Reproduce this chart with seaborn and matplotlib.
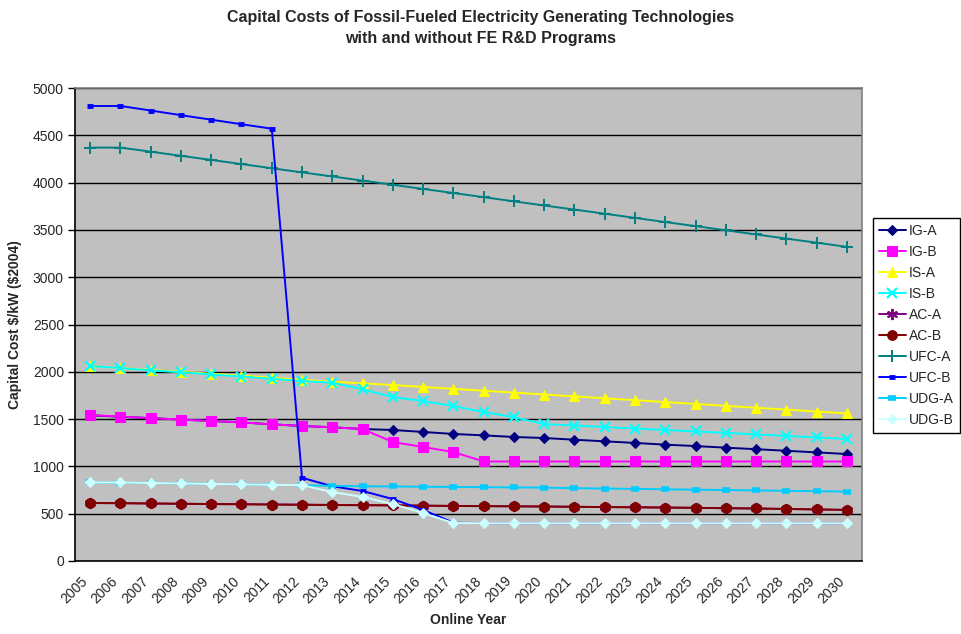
import matplotlib
matplotlib.use("Agg")
import matplotlib.pyplot as plt
import matplotlib.transforms as mtransforms
import seaborn as sns
import pandas as pd

years = list(range(2005, 2031))

ig_a = [1540, 1525, 1510, 1495, 1480, 1465, 1445, 1427, 1414, 1395, 1385, 1364, 1343, 1328, 1311,
        1300, 1282, 1265, 1248, 1230, 1215, 1198, 1182, 1165, 1148, 1131]
ig_b = [1543, 1527, 1510, 1495, 1480, 1465, 1445, 1427, 1414, 1395, 1258, 1205, 1152, 1052, 1052,
        1052, 1052, 1052, 1052, 1052, 1052, 1052, 1052, 1052, 1052, 1052]
is_a = [2060, 2040, 2020, 2000, 1980, 1960, 1937, 1915, 1895, 1878, 1860, 1840, 1820, 1800, 1780,
        1760, 1740, 1720, 1700, 1680, 1660, 1640, 1620, 1600, 1580, 1560]
is_b = [2060, 2040, 2015, 1995, 1972, 1950, 1925, 1903, 1885, 1815, 1733, 1691, 1638, 1575, 1520,
        1447, 1432, 1416, 1400, 1385, 1370, 1354, 1338, 1322, 1306, 1290]
ac_a = [613, 611, 608, 605, 602, 600, 597, 595, 592, 590, 588, 585, 582, 580, 578,
        576, 573, 570, 568, 565, 562, 558, 555, 550, 545, 540]
ac_b = ac_a[:]
ufc_a = [4370, 4370, 4327, 4283, 4240, 4196, 4152, 4108, 4065, 4021, 3977, 3933, 3890, 3846, 3802,
         3758, 3715, 3671, 3627, 3583, 3540, 3496, 3452, 3408, 3365, 3321]
ufc_b = [4810, 4810, 4762, 4713, 4665, 4617, 4570, 880, 790, 740, 655, 540, 405, 400, 400,
         400, 400, 400, 400, 400, 400, 400, 400, 400, 400, 400]
udg_a = [830, 828, 825, 820, 815, 810, 805, 800, 795, 790, 788, 785, 783, 780, 778,
         775, 770, 766, 762, 758, 754, 750, 746, 742, 738, 733]
udg_b = [830, 830, 825, 820, 815, 810, 805, 802, 729, 677, 602, 507, 402, 400, 400,
         400, 400, 400, 400, 400, 400, 400, 400, 400, 400, 400]

series = [
    ("IG-A", ig_a, "#000080", "D", 5.5, {}),
    ("IG-B", ig_b, "#FF00FF", "s", 7, {}),
    ("IS-A", is_a, "#FFFF00", "^", 7.5, {}),
    ("IS-B", is_b, "#00FFFF", "x", 7, {"markeredgewidth": 1.6}),
    ("AC-A", ac_a, "#800080", (6, 2, 0), 8, {"markeredgewidth": 1.4}),
    ("AC-B", ac_b, "#800000", "o", 7, {}),
    ("UFC-A", ufc_a, "#008080", "+", 8, {"markeredgewidth": 1.4}),
    ("UFC-B", ufc_b, "#0000FF", "_", 5, {"markeredgewidth": 3.5}),
    ("UDG-A", udg_a, "#00CCFF", "_", 6, {"markeredgewidth": 4}),
    ("UDG-B", udg_b, "#CCFFFF", "D", 5.5, {}),
]

sns.set_style("white")
plt.rcParams["font.family"] = ["Liberation Sans", "DejaVu Sans"]

fig = plt.figure(figsize=(9.61, 6.34), dpi=100)
ax = fig.add_axes([75 / 961, 73 / 634, (862 - 75) / 961, (561 - 88) / 634])
ax.set_facecolor("#C0C0C0")

for name, vals, col, mk, ms, kw in series:
    df = pd.DataFrame({"year": years, "cost": vals})
    sns.lineplot(data=df, x="year", y="cost", ax=ax, color=col, marker=mk, markersize=ms,
                 markeredgecolor=col, markerfacecolor=col, linewidth=1.4, label=name, **kw)

ax.set_xlim(2004.5, 2030.5)
ax.set_ylim(0, 5000)
ax.set_yticks(range(0, 5001, 500))
ax.yaxis.grid(True, color="black", linewidth=1)
ax.xaxis.grid(False)
ax.set_axisbelow(True)

ax.set_xticks(years)
ax.set_xticks([y - 0.5 for y in years] + [2030.5], minor=True)
ax.tick_params(axis="x", which="major", length=0, pad=10)
ax.tick_params(axis="x", which="minor", length=5, width=1, color="black", direction="out")
ax.tick_params(axis="y", which="major", length=5, width=1, color="black", direction="out",
               labelsize=10, left=True, pad=3)
ax.set_xticklabels([str(y) for y in years], rotation=45, ha="right", rotation_mode="anchor",
                   fontsize=10)
offset = mtransforms.ScaledTranslation(-0.095, 0.01, fig.dpi_scale_trans)
for lab in ax.get_xticklabels():
    lab.set_transform(lab.get_transform() + offset)

for s in ["left", "bottom"]:
    ax.spines[s].set_color("black")
    ax.spines[s].set_linewidth(1.2)
for s in ["top", "right"]:
    ax.spines[s].set_color("#808080")
    ax.spines[s].set_linewidth(1.2)

ax.set_xlabel("Online Year", fontsize=10, fontweight="bold", labelpad=5)
ax.set_ylabel("Capital Cost \\$/kW (\\$2004)", fontsize=10, fontweight="bold", labelpad=8)

fig.text(0.5, 0.984, "Capital Costs of Fossil-Fueled Electricity Generating Technologies\n"
         "with and without FE R&D Programs", ha="center", va="top", fontsize=11.5,
         fontweight="bold", linespacing=1.5)

leg = ax.legend(loc="upper left", bbox_to_anchor=(873 / 961, 1 - 218 / 634),
                bbox_transform=fig.transFigure, frameon=True, fancybox=False,
                edgecolor="black", facecolor="white", framealpha=1, fontsize=10,
                labelspacing=0.51, handlelength=2.0, handletextpad=0.2, borderpad=0.4,
                borderaxespad=0)
leg.get_frame().set_linewidth(1)

fig.savefig("out.png", dpi=100)
